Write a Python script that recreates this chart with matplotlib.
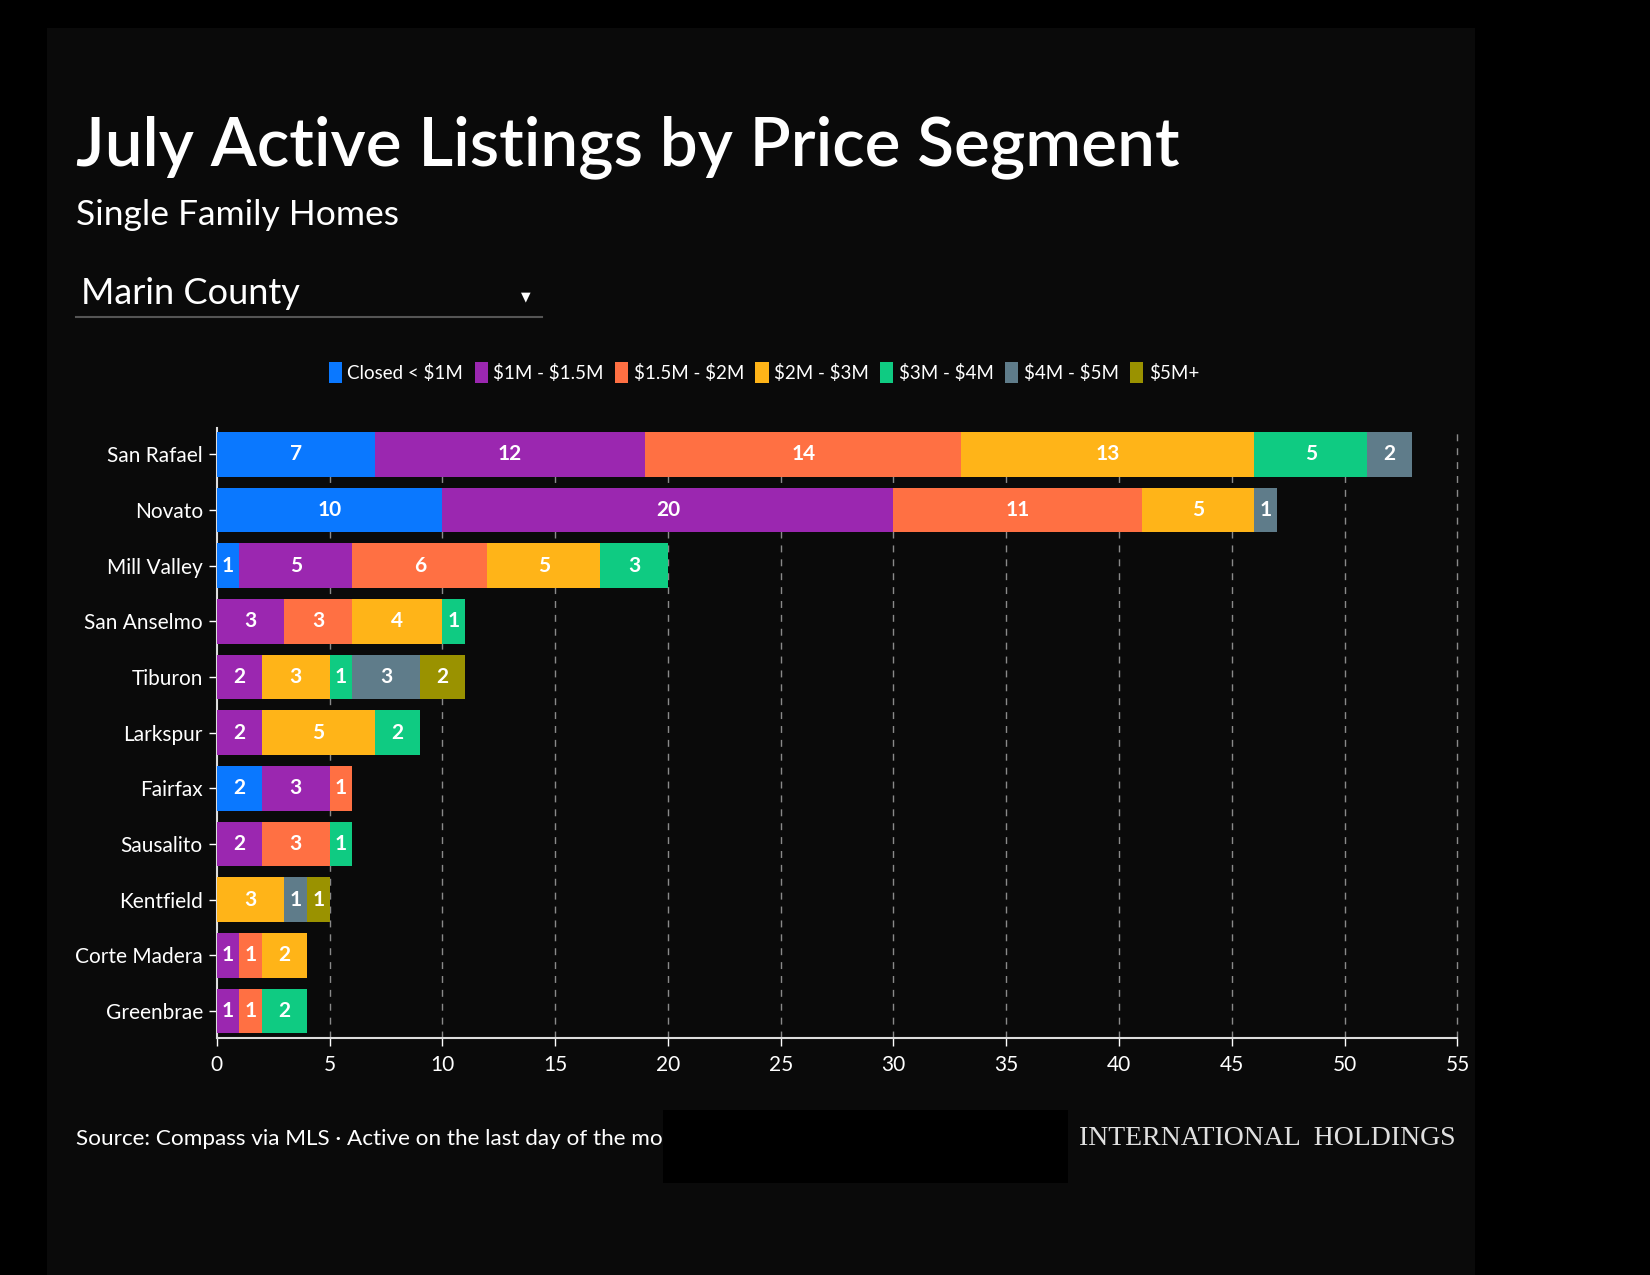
import numpy as np
import matplotlib.pyplot as plt
from matplotlib.patches import Patch, Rectangle

# Datos: listados activos por segmento de precio
cities = ['San Rafael', 'Novato', 'Mill Valley', 'San Anselmo', 'Tiburon',
          'Larkspur', 'Fairfax', 'Sausalito', 'Kentfield', 'Corte Madera',
          'Greenbrae']
segments = ['Closed < \\$1M', '\\$1M - \\$1.5M', '\\$1.5M - \\$2M', '\\$2M - \\$3M',
            '\\$3M - \\$4M', '\\$4M - \\$5M', '\\$5M+']

under_1m = [7, 10, 1, 0, 0, 0, 2, 0, 0, 0, 0]
m1_15 = [12, 20, 5, 3, 2, 2, 3, 2, 0, 1, 1]
m15_2 = [14, 11, 6, 3, 0, 0, 1, 3, 0, 1, 1]
m2_3 = [13, 5, 5, 4, 3, 5, 0, 0, 3, 2, 0]
m3_4 = [5, 0, 3, 1, 1, 2, 0, 1, 0, 0, 2]
m4_5 = [2, 1, 0, 0, 3, 0, 0, 0, 1, 0, 0]
m5_plus = [0, 0, 0, 0, 2, 0, 0, 0, 1, 0, 0]

xticks = [0, 5, 10, 15, 20, 25, 30, 35, 40, 45, 50, 55]

colors = ['#0a78ff', '#9b27b0', '#ff7043', '#ffb418', '#0fcb82', '#5f7c8a', '#9a9200']
series = [under_1m, m1_15, m15_2, m2_3, m3_4, m4_5, m5_plus]

FONT = 'Lato'
plt.rcParams['font.family'] = [FONT, 'DejaVu Sans']

W, H = 1568, 1212  # coordenadas de referencia
fig = plt.figure(figsize=(16.5, 12.75), dpi=100, facecolor='#000000')

# panel de fondo
fig.patches.append(Rectangle((45 / W, 0), (1402 - 45) / W, 1 - 27 / H,
                             transform=fig.transFigure, facecolor='#0a0a0a',
                             edgecolor='none', zorder=-1))

ax = fig.add_axes([206 / W, 1 - 987 / H, (1385 - 206) / W, (987 - 407) / H])
ax.set_facecolor('#0a0a0a')
ax.set_zorder(2)

y = np.arange(len(cities))
left = np.zeros(len(cities))
for vals, col in zip(series, colors):
    vals = np.array(vals)
    ax.barh(y, vals, left=left, height=0.8, color=col, zorder=3)
    for yi, v, l in zip(y, vals, left):
        if v > 0:
            ax.text(l + v / 2, yi, str(v), ha='center', va='center',
                    color='white', fontsize=15, fontweight='bold', zorder=4)
    left = left + vals

ax.set_xlim(0, 55)
ax.set_ylim(10.49, -0.47)
ax.set_xticks(xticks)
ax.set_yticks(y)
ax.set_yticklabels(cities)
for xv in xticks[1:]:
    ax.axvline(xv, color='#8a8a8a', lw=1, ls=(0, (5, 5)), zorder=1, clip_on=False)

for s in ['top', 'right']:
    ax.spines[s].set_visible(False)
for s in ['left', 'bottom']:
    ax.spines[s].set_color('#dddddd')
    ax.spines[s].set_linewidth(1.5)
ax.tick_params(axis='both', colors='white', labelsize=15, length=6, width=1)
ax.tick_params(axis='y', pad=4)
ax.tick_params(axis='x', pad=6)

# titulos
fig.text(72 / W, 1 - 157 / H, 'July Active Listings by Price Segment',
         color='white', fontsize=48.5, fontweight='semibold', va='baseline')
fig.text(72 / W, 1 - 214 / H, 'Single Family Homes', color='white',
         fontsize=25.5, va='baseline')
fig.text(77 / W, 1 - 289 / H, 'Marin County', color='white', fontsize=26,
         va='baseline')
fig.text(500 / W, 1 - 282 / H, '\u25BC', color='white', fontsize=9,
         ha='center', va='center', family='DejaVu Sans')
fig.add_artist(plt.Line2D([72 / W, 515 / W], [1 - 301 / H, 1 - 301 / H],
                          color='#555555', lw=1.5, transform=fig.transFigure))

# leyenda
handles = [Patch(facecolor=c, edgecolor='none', label=s)
           for s, c in zip(segments, colors)]
leg = fig.legend(handles=handles, loc='center', bbox_to_anchor=(726 / W, 1 - 354 / H),
                 ncol=7, frameon=False, fontsize=13.5, handlelength=0.7,
                 handleheight=1.3, handletextpad=0.3, columnspacing=0.6)
for t in leg.get_texts():
    t.set_color('white')

# pie
fig.text(72 / W, 1 - 1083 / H, 'Source: Compass via MLS \u00b7 Active on the last day of the month',
         color='white', fontsize=16.2, va='center')
fig.patches.append(Rectangle((630 / W, 1 - 1125 / H), (1015 - 630) / W, 70 / H,
                             transform=fig.transFigure, facecolor='#000000',
                             edgecolor='none', zorder=5))
fig.text(1383 / W, 1 - 1082 / H, 'INTERNATIONAL  HOLDINGS',
         color='#e0e0e0', fontsize=20, va='center', ha='right',
         family=['Liberation Serif', 'DejaVu Serif'], zorder=6)

plt.savefig('out.png', dpi=100, facecolor=fig.get_facecolor())
